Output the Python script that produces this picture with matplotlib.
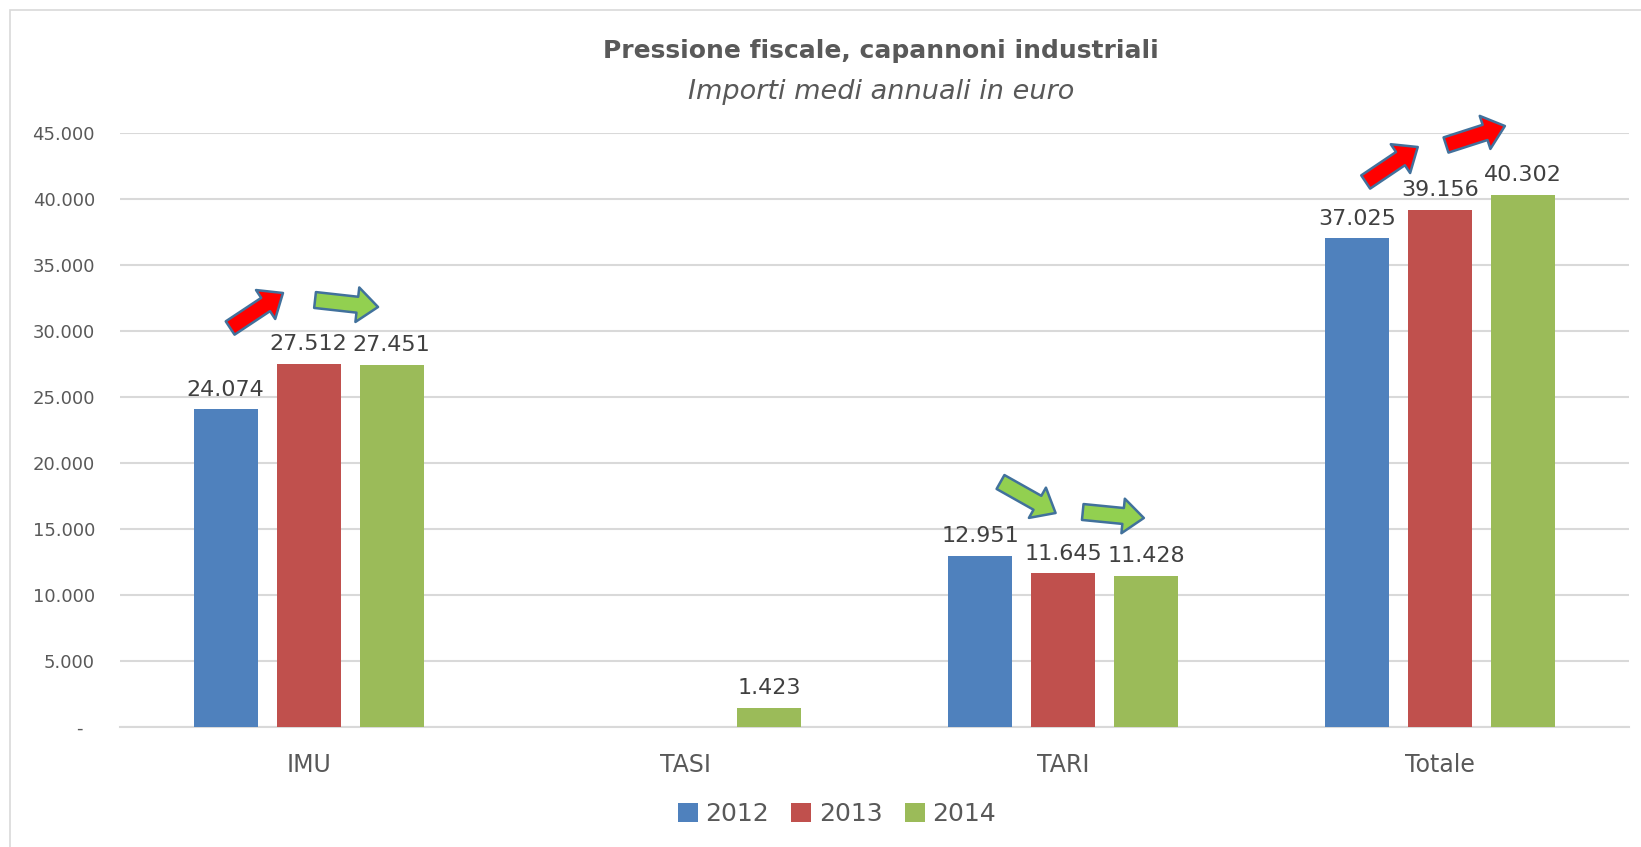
import matplotlib
matplotlib.use('Agg')
import matplotlib.pyplot as plt
import numpy as np
from matplotlib.patches import Rectangle

plt.rcParams['font.family'] = ['DejaVu Sans']

categories = ['IMU', 'TASI', 'TARI', 'Totale']
years = ['2012', '2013', '2014']
v2012 = [24074, 0, 12951, 37025]
v2013 = [27512, 0, 11645, 39156]
v2014 = [27451, 1423, 11428, 40302]
yticks = [0, 5000, 10000, 15000, 20000, 25000, 30000, 35000, 40000, 45000]

# arrows drawn over the chart: (tail, tip, colour)
arrows = [
    ((-0.208, 30227), (-0.068, 32879), 'red'),
    ((0.017, 32348), (0.184, 31818), 'green'),
    ((1.834, 18561), (1.980, 16212), 'green'),
    ((2.052, 16288), (2.214, 15833), 'green'),
    ((2.802, 41288), (2.940, 43939), 'red'),
    ((3.015, 44091), (3.171, 45530), 'red'),
]

colors = ['#4F81BD', '#C0504D', '#9BBB59']
arrow_fill = {'red': '#FF0000', 'green': '#92D050'}
grid_c = '#D9D9D9'
text_c = '#595959'

W, H = 1641, 847
fig = plt.figure(figsize=(W / 100, H / 100), dpi=100)
ax = fig.add_axes([120 / W, 1 - 727 / H, (1629 - 120) / W, (727 - 133) / H])

# chart border (only top/left visible)
fig.patches.append(Rectangle((10 / W, -0.1), 1.2, 1 - 10 / H + 0.1, transform=fig.transFigure,
                             fill=False, edgecolor=grid_c, lw=1.2))

x = np.arange(len(categories))
width = 0.17
offs = [-0.22, 0, 0.22]
series = [v2012, v2013, v2014]
for i, (vals, yr) in enumerate(zip(series, years)):
    bars = ax.bar(x + offs[i], vals, width, color=colors[i], label=yr, zorder=3)
    for b, v in zip(bars, vals):
        if v == 0:
            continue
        ax.annotate(f'{v:,}'.replace(',', '.'), (b.get_x() + b.get_width() / 2, v),
                    xytext=(0, 7), textcoords='offset points', ha='center', va='bottom',
                    fontsize=16, color='#404040', zorder=4)

for tail, tip, c in arrows:
    ax.annotate('', xy=tip, xytext=tail, annotation_clip=False,
                arrowprops=dict(arrowstyle='simple,head_length=1.5,head_width=2.5,tail_width=1.15',
                                mutation_scale=10, shrinkA=0, shrinkB=0,
                                fc=arrow_fill[c], ec='#41719C', lw=1.8, zorder=5))

ax.set_xlim(-0.5, 3.5)
ax.set_ylim(0, 45000)
ax.set_yticks(yticks)
ax.set_yticklabels(['-  '] + [f'{t:,}'.replace(',', '.') for t in yticks[1:]])
ax.set_xticks(x)
ax.set_xticklabels(categories)
ax.tick_params(axis='y', length=0, pad=18, labelsize=13, labelcolor=text_c)
ax.tick_params(axis='x', length=0, pad=19, labelsize=17, labelcolor=text_c)
ax.yaxis.grid(True, color=grid_c, lw=1.5, zorder=0)
for s in ['top', 'right', 'left']:
    ax.spines[s].set_visible(False)
ax.spines['bottom'].set_color(grid_c)
ax.spines['bottom'].set_linewidth(1.5)

fig.text(0.537, 1 - 51 / H, 'Pressione fiscale, capannoni industriali', ha='center', va='center',
         fontsize=18, fontweight='bold', color=text_c)
fig.text(0.537, 1 - 92 / H, 'Importi medi annuali in euro', ha='center', va='center',
         fontsize=19.5, fontstyle='italic', color=text_c)

fig.legend(loc='center', bbox_to_anchor=(837 / W, 1 - 814 / H), ncol=3, frameon=False,
           handlelength=0.8, handleheight=0.8, handletextpad=0.3, columnspacing=0.9,
           fontsize=18, labelcolor=text_c)

fig.savefig('out.png', dpi=100)
